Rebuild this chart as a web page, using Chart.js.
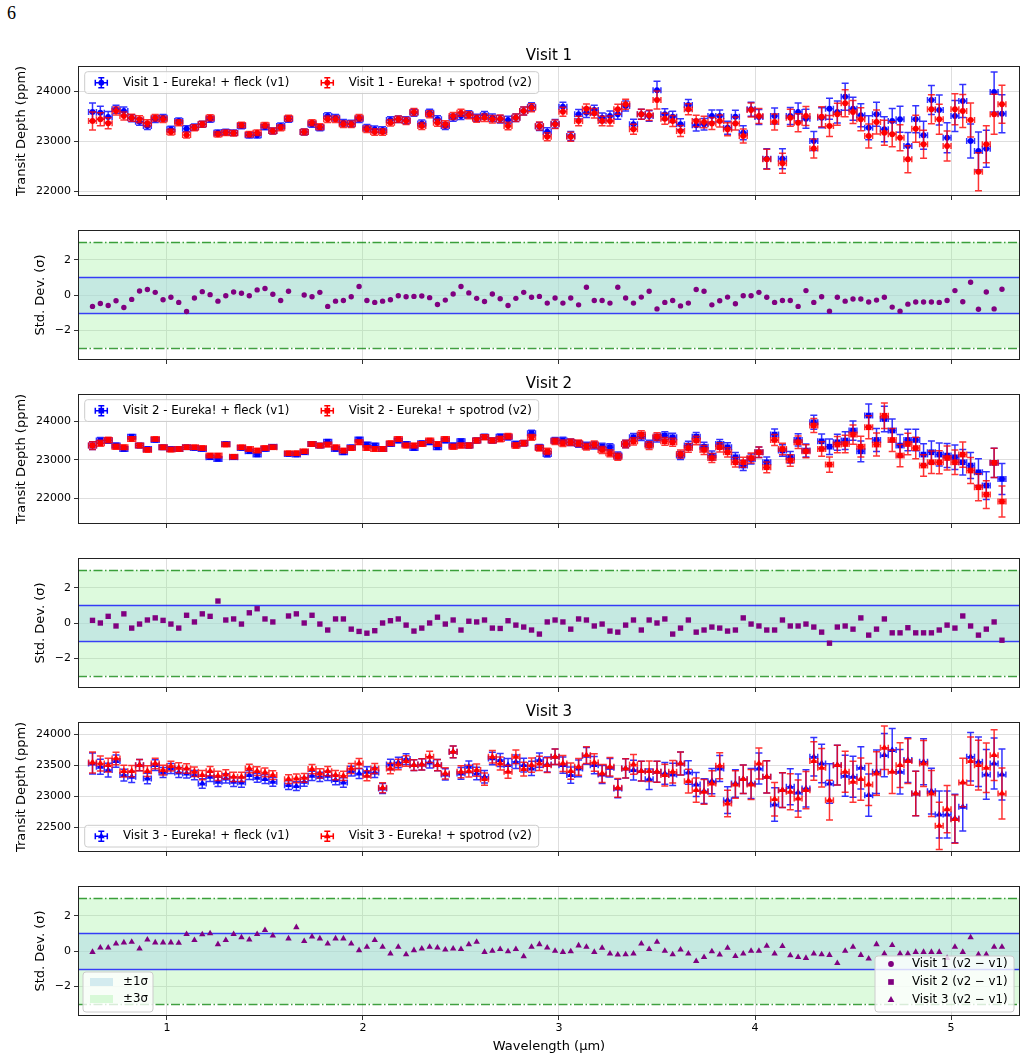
<!DOCTYPE html>
<html>
<head>
<meta charset="utf-8">
<script src="https://cdn.jsdelivr.net/npm/chart.js@4.4.1/dist/chart.umd.min.js"></script>
<style>
  body { margin: 0; background: #fff; }
  #page { position: relative; width: 1027px; height: 1061px; overflow: hidden; }
  #page canvas { position: absolute; left: 0; }
  #pageNum { position: absolute; left: 7px; top: 3px; font-family: "Liberation Serif", "DejaVu Serif", serif; font-size: 18px; }
</style>
</head>
<body>
<div id="page">
  <div id="pageNum">6</div>
  <canvas id="p1"></canvas>
  <canvas id="p2"></canvas>
  <canvas id="p3"></canvas>
  <canvas id="p4"></canvas>
  <canvas id="p5"></canvas>
  <canvas id="p6"></canvas>
</div>
<script>
// ---- data ----
const wavelength = [
  0.62,0.66,0.70,0.74,0.78,0.82,0.86,0.90,0.94,0.98,
  1.02,1.06,1.10,1.14,1.18,1.22,1.26,1.30,1.34,1.38,
  1.42,1.46,1.50,1.54,1.58,1.62,1.66,1.70,1.74,1.78,
  1.82,1.86,1.90,1.94,1.98,2.02,2.06,2.10,2.14,2.18,
  2.22,2.26,2.30,2.34,2.38,2.42,2.46,2.50,2.54,2.58,
  2.62,2.66,2.70,2.74,2.78,2.82,2.86,2.90,2.94,2.98,
  3.02,3.06,3.10,3.14,3.18,3.22,3.26,3.30,3.34,3.38,
  3.42,3.46,3.50,3.54,3.58,3.62,3.66,3.70,3.74,3.78,
  3.82,3.86,3.90,3.94,3.98,4.02,4.06,4.10,4.14,4.18,
  4.22,4.26,4.30,4.34,4.38,4.42,4.46,4.50,4.54,4.58,
  4.62,4.66,4.70,4.74,4.78,4.82,4.86,4.90,4.94,4.98,
  5.02,5.06,5.10,5.14,5.18,5.22,5.26];
const binHalfWidth = 0.02;

const visit1Fleck = [
  23580,23565,23480,23635,23600,23455,23385,23300,23435,23465,
  23235,23400,23245,23280,23335,23435,23165,23180,23165,23300,
  23115,23115,23280,23200,23300,23435,null,23180,23335,23265,
  23500,23465,23365,23350,23435,23265,23235,23220,23420,23435,
  23415,23565,23350,23565,23435,23300,23465,23500,23535,23465,
  23515,23465,23435,23420,23465,23600,23685,23290,23185,23345,
  23685,23100,23535,23565,23620,23465,23500,23535,23700,23335,
  23535,23500,24015,23535,23485,23335,23720,23315,23335,23500,
  23500,23265,23485,23165,23635,23480,22645,23500,22645,23500,
  23580,23445,23000,23465,23645,23580,23885,23645,23515,23265,
  23535,23235,23400,23435,22900,23435,23115,23820,23620,23065,
  23500,23800,23000,22800,22845,23980,23545];
const visit1Spotrod = [
  23400,23435,23355,23600,23500,23465,23435,23355,23465,23435,
  23180,23365,23120,23265,23335,23465,23135,23165,23155,23320,
  23135,23165,23315,23200,23265,23455,null,23180,23365,23285,
  23435,23435,23335,23335,23465,23235,23180,23180,23365,23435,
  23400,23580,23300,23535,23365,23335,23500,23565,23515,23445,
  23465,23435,23445,23300,23465,23600,23665,23300,23085,23335,
  23585,23085,23400,23645,23555,23400,23400,23635,23735,23235,
  23535,23515,23820,23445,23400,23200,23635,23400,23380,23350,
  23400,23235,23350,23100,23620,23500,22635,23380,22555,23465,
  23365,23500,22850,23485,23300,23535,23755,23580,23435,23100,
  23380,23165,23135,23065,22635,23245,22935,23635,23435,22900,
  23635,23600,23420,22385,22935,23535,23735];
const visit1Err = [
  180,130,110,80,80,70,70,70,65,65,
  60,60,60,60,60,60,55,55,55,55,
  55,55,55,60,60,60,60,60,60,60,
  65,65,65,65,65,65,65,65,65,65,
  70,70,70,70,70,70,70,70,70,70,
  75,75,75,75,75,80,80,80,80,85,
  90,90,95,95,95,95,100,100,100,100,
  100,105,180,110,110,110,110,115,115,120,
  120,130,130,140,140,150,200,160,200,170,
  180,190,190,200,210,220,270,230,230,240,
  240,250,250,260,270,270,280,290,300,300,
  310,330,340,380,370,400,380];

const visit2Fleck = [
  23370,23500,23500,23370,23280,23600,23370,23280,23515,23325,
  23280,23280,23325,23305,23280,23065,23020,23410,23065,23305,
  23220,23135,23280,23340,null,23150,23135,23195,23410,23370,
  23470,23280,23195,23325,23525,23395,23370,23280,23410,23500,
  23410,23305,23430,23455,23325,23500,23370,23480,23370,23500,
  23600,23500,23600,23585,23410,23430,23690,23325,23150,23500,
  23500,23455,23410,23370,23370,23340,23325,23110,23410,23585,
  23600,23410,23565,23630,23585,23110,23370,23600,23340,23110,
  23410,23325,23065,22850,23020,23195,22935,23655,23240,23065,
  23515,23240,23975,23480,23340,23455,23500,23760,23220,24150,
  23515,24060,23760,23370,23515,23515,23135,23195,23135,23110,
  23065,22935,22850,22675,22330,22920,22500];
const visit2Spotrod = [
  23370,23430,23515,23340,23325,23540,23370,23255,23540,23325,
  23265,23280,23325,23325,23305,23110,23110,23395,23080,23325,
  23280,23240,23305,23325,null,23170,23170,23220,23410,23370,
  23395,23325,23240,23305,23455,23305,23280,23280,23430,23540,
  23370,23370,23410,23500,23410,23540,23340,23370,23370,23500,
  23585,23500,23540,23610,23370,23430,23585,23305,23220,23480,
  23430,23455,23430,23340,23395,23255,23170,23080,23410,23480,
  23655,23370,23600,23480,23455,23150,23305,23500,23255,23045,
  23325,23195,22935,22935,23045,23195,22805,23515,23280,22980,
  23455,23220,23890,23280,22875,23395,23410,23655,23340,23845,
  23395,24145,23515,23110,23410,23305,22850,22935,22935,23045,
  22935,23135,22720,22285,22095,22920,21915];
const visit2Err = [
  100,80,70,65,60,60,60,55,55,55,
  55,50,50,50,50,50,50,50,50,50,
  50,50,50,50,50,50,50,50,55,55,
  55,55,55,55,60,60,60,60,60,60,
  60,60,60,60,60,60,65,65,65,65,
  65,65,70,70,70,70,75,75,80,80,
  85,85,85,85,90,90,90,90,95,95,
  100,100,100,100,105,105,110,110,115,115,
  120,120,125,130,130,135,140,145,150,150,
  160,170,180,190,200,210,230,250,270,300,
  300,330,300,290,280,280,280,290,300,310,
  320,330,340,350,360,380,400];

const visit3Fleck = [
  23527,23473,23420,23565,23339,23312,23500,23285,23500,23382,
  23446,23382,23366,23339,23204,23312,23231,23285,23231,23220,
  23339,23296,23274,23231,null,23177,23161,23231,23328,23312,
  23328,23258,23220,23403,23366,23393,23382,23124,23511,23543,
  23597,23500,23511,23543,23500,23350,23715,23366,23473,23366,
  23312,23608,23581,23500,23554,23500,23446,23581,23511,23634,
  23500,23339,23446,23650,23500,23350,23457,23124,23446,23420,
  23403,23274,23393,23366,23350,23527,23382,23188,23081,23242,
  23446,22935,23204,23274,23204,23446,23312,22866,23097,23151,
  23059,23124,23634,23527,23204,23500,23328,23312,23457,23016,
  23393,23661,23742,23393,23581,23043,23554,23081,22704,22704,
  22640,22828,23634,23554,23350,23527,23350];
const visit3Spotrod = [
  23543,23527,23500,23608,23403,23403,23500,23403,23527,23420,
  23484,23457,23446,23393,23339,23403,23328,23350,23312,23312,
  23446,23403,23382,23339,null,23274,23285,23296,23436,23366,
  23403,23339,23328,23446,23527,23328,23446,23134,23446,23511,
  23565,23500,23511,23634,23500,23366,23715,23393,23403,23420,
  23274,23634,23527,23393,23634,23436,23500,23527,23500,23634,
  23527,23403,23473,23661,23543,23366,23473,23134,23446,23511,
  23403,23403,23393,23339,23393,23527,23242,23097,23070,23204,
  23489,22882,23188,23274,23188,23527,23312,22952,23097,23070,
  22962,23097,23565,23457,22935,23500,23393,23231,23274,23188,
  23366,23780,23393,23500,23565,23043,23527,23043,22522,22790,
  22629,23220,23565,23500,23457,23661,23043];
const visit3Err = [
  170,120,110,100,95,90,90,85,85,80,
  80,80,75,75,75,75,75,75,75,75,
  70,70,70,70,70,70,70,70,75,75,
  75,75,75,80,80,80,80,80,85,85,
  85,85,90,90,90,90,95,95,95,100,
  100,100,105,105,110,110,115,115,120,125,
  130,130,135,135,140,145,150,150,155,160,
  160,165,170,175,180,185,190,195,200,205,
  210,215,220,230,240,250,260,270,280,290,
  300,300,310,310,320,320,330,330,340,340,
  350,350,350,360,360,360,370,370,380,380,
  390,390,390,400,400,410,410];

// (v2 - v1) in units of sigma
const visit1Sigma = [
  -0.65,-0.48,-0.60,-0.33,-0.71,-0.25,0.23,0.31,0.15,-0.27,
  -0.13,-0.42,-0.94,-0.17,0.19,0.02,-0.35,-0.04,0.17,0.10,
  -0.04,0.29,0.37,0.04,-0.31,0.21,null,0.00,-0.10,0.15,
  -0.65,-0.35,-0.31,-0.10,0.48,-0.31,-0.42,-0.35,-0.27,-0.04,
  -0.10,-0.08,-0.06,-0.15,-0.54,-0.29,0.06,0.48,0.12,-0.19,
  -0.37,0.06,-0.21,-0.60,-0.19,0.15,-0.13,-0.08,-0.46,-0.17,
  -0.46,-0.17,-0.56,0.44,-0.31,-0.31,-0.46,0.44,-0.17,-0.46,
  -0.12,0.21,-0.79,-0.42,-0.31,-0.62,-0.46,0.31,0.21,-0.56,
  -0.33,-0.12,-0.50,-0.04,-0.04,0.15,-0.13,-0.42,-0.31,-0.31,
  -0.65,0.25,-0.42,-0.10,-0.92,-0.13,-0.35,-0.23,-0.23,-0.40,
  -0.29,-0.13,-0.69,-0.92,-0.52,-0.40,-0.40,-0.40,-0.42,-0.31,
  0.25,-0.38,0.73,-0.81,0.17,-0.79,0.33];
const visit2Sigma = [
  0.15,0.00,0.38,-0.17,0.52,-0.29,-0.06,0.17,0.29,0.15,
  -0.06,-0.29,0.44,0.06,0.52,0.38,1.25,0.17,0.23,-0.06,
  0.58,0.81,0.23,0.06,null,0.40,0.52,0.00,0.44,-0.06,
  -0.40,0.23,0.23,-0.35,-0.48,-0.58,-0.44,0.00,0.13,0.23,
  -0.12,-0.46,-0.29,0.00,0.33,-0.06,0.17,-0.40,0.10,0.06,
  0.17,-0.29,-0.31,0.13,-0.12,-0.23,-0.40,-0.63,0.06,0.17,
  0.06,-0.35,0.23,0.17,-0.17,-0.06,-0.46,-0.52,-0.12,0.17,
  -0.40,0.17,0.00,0.23,-0.63,-0.29,0.17,-0.52,-0.40,-0.23,
  -0.29,-0.46,-0.40,0.29,-0.06,-0.17,-0.40,-0.40,0.17,-0.17,
  -0.17,-0.06,-0.23,-0.52,-1.15,-0.23,-0.17,-0.35,0.29,-0.69,
  -0.35,0.23,-0.56,-0.56,-0.27,-0.56,-0.56,-0.56,-0.40,-0.12,
  -0.29,0.40,-0.17,-0.69,-0.35,0.06,-0.98];
const visit3Sigma = [
  -0.06,0.19,0.19,0.42,0.48,0.52,0.13,0.65,0.48,0.48,
  0.48,0.46,0.96,0.62,0.94,1.00,0.38,0.62,0.96,0.77,
  0.65,0.96,1.19,0.87,null,0.71,1.35,0.56,0.81,0.71,
  0.42,0.71,0.71,0.42,0.04,0.23,0.62,0.23,-0.15,0.23,
  -0.19,0.04,0.13,0.23,0.19,0.08,0.13,0.10,0.37,0.52,
  -0.06,0.00,0.10,-0.02,0.10,-0.31,0.23,0.38,0.19,0.00,
  -0.06,-0.02,0.31,0.23,-0.06,0.17,-0.15,-0.21,-0.19,-0.15,
  0.42,0.10,0.52,0.00,-0.19,0.08,-0.15,-0.58,-0.35,-0.02,
  -0.21,0.17,-0.29,-0.15,0.00,0.00,0.29,-0.15,0.27,-0.25,
  -0.35,-0.40,-0.15,-0.19,-0.23,-0.69,0.00,0.23,-0.23,-0.44,
  0.38,-0.15,0.33,-0.15,-0.15,-0.06,-0.06,-0.06,-0.06,-0.40,
  0.23,-0.06,0.77,-0.19,-0.19,0.23,0.23];

const visitNames = ['Visit 1', 'Visit 2', 'Visit 3'];
const methodNames = ['Eureka! + fleck (v1)', 'Eureka! + spotrod (v2)'];
const sigmaLevels = [1, 3];
const sigmaLabels = ['\u00b11\u03c3', '\u00b13\u03c3'];
const wavelengthTicks = [1, 2, 3, 4, 5];
const depthTicks = [22000, 23000, 24000];
const depthTicksVisit3 = [22500, 23000, 23500, 24000];
const sigmaTicks = [-2, 0, 2];

const fleckDepth = [visit1Fleck, visit2Fleck, visit3Fleck];
const spotrodDepth = [visit1Spotrod, visit2Spotrod, visit3Spotrod];
const depthErr = [visit1Err, visit2Err, visit3Err];
const diffSigma = [visit1Sigma, visit2Sigma, visit3Sigma];

// ---- look ----
Chart.defaults.font.family = '"DejaVu Sans", sans-serif';
Chart.defaults.color = '#000';

const FONT = '"DejaVu Sans", sans-serif';
const BLUE = '#0000ff', RED = '#ff0000', PURPLE = '#800080';
const markerStyle = ['circle', 'rect', 'triangle'];
const markerRadius = { circle: 2.9, rect: 4.0, triangle: 3.9 };
const TOP_PAD = 30, PLOT_H = 130;

// bottom must be >= half a tick label + padding, or Chart.js shrinks the plot
const panels = [
  { id: 'p1', plotTop: 66,  bottom: 12, type: 'depth', visit: 0, yMin: 21900, yMax: 24500, yTicks: depthTicks, legend: 'top' },
  { id: 'p2', plotTop: 230, bottom: 12, type: 'sigma', visit: 0 },
  { id: 'p3', plotTop: 394, bottom: 12, type: 'depth', visit: 1, yMin: 21330, yMax: 24710, yTicks: depthTicks, legend: 'top' },
  { id: 'p4', plotTop: 558, bottom: 12, type: 'sigma', visit: 1 },
  { id: 'p5', plotTop: 722, bottom: 12, type: 'depth', visit: 2, yMin: 22100, yMax: 24195, yTicks: depthTicksVisit3, legend: 'bottom' },
  { id: 'p6', plotTop: 886, bottom: 45, type: 'sigma', visit: 2, xLabels: true, sideLegends: true }
];

function markerPath(ctx, style, r, x, y) {
  ctx.beginPath();
  if (style === 'circle') {
    ctx.arc(x, y, r, 0, Math.PI * 2);
  } else if (style === 'rect') {
    const s = r * Math.SQRT1_2;
    ctx.rect(x - s, y - s, 2 * s, 2 * s);
  } else {
    ctx.moveTo(x, y - r);
    ctx.lineTo(x + r * Math.sin(2 * Math.PI / 3), y - r * Math.cos(2 * Math.PI / 3));
    ctx.lineTo(x + r * Math.sin(4 * Math.PI / 3), y - r * Math.cos(4 * Math.PI / 3));
    ctx.closePath();
  }
}

function legendBox(ctx, x, y, w, h) {
  ctx.save();
  ctx.beginPath();
  ctx.roundRect(x, y, w, h, 3);
  ctx.fillStyle = 'rgba(255,255,255,0.8)';
  ctx.fill();
  ctx.strokeStyle = '#cccccc';
  ctx.lineWidth = 1;
  ctx.stroke();
  ctx.restore();
}

function errIcon(ctx, cx, cy, color, style) {
  ctx.save();
  ctx.strokeStyle = color;
  ctx.lineWidth = 1.5;
  ctx.beginPath();
  ctx.moveTo(cx - 6, cy); ctx.lineTo(cx + 6, cy);
  ctx.moveTo(cx - 6, cy - 3); ctx.lineTo(cx - 6, cy + 3);
  ctx.moveTo(cx + 6, cy - 3); ctx.lineTo(cx + 6, cy + 3);
  ctx.moveTo(cx, cy - 5); ctx.lineTo(cx, cy + 5);
  ctx.moveTo(cx - 3, cy - 5); ctx.lineTo(cx + 3, cy - 5);
  ctx.moveTo(cx - 3, cy + 5); ctx.lineTo(cx + 3, cy + 5);
  ctx.stroke();
  ctx.fillStyle = color;
  markerPath(ctx, style, markerRadius[style], cx, cy);
  ctx.fill();
  ctx.restore();
}

const panelDecor = {
  id: 'panelDecor',
  beforeDatasetsDraw(chart, args, opts) {
    const p = panels[opts.panel];
    if (p.type !== 'sigma') return;
    const { ctx, chartArea: ca, scales: { y } } = chart;
    ctx.save();
    const fills = ['rgba(173,216,230,0.5)', 'rgba(144,238,144,0.3)'];
    // wide band first, then narrow one on top
    for (let k = sigmaLevels.length - 1; k >= 0; k--) {
      const a = y.getPixelForValue(sigmaLevels[k]), b = y.getPixelForValue(-sigmaLevels[k]);
      ctx.fillStyle = fills[k];
      ctx.fillRect(ca.left, a, ca.width, b - a);
    }
    ctx.lineWidth = 1.3;
    sigmaLevels.forEach((lv, k) => {
      ctx.strokeStyle = k === 0 ? 'rgba(0,0,255,0.75)' : 'rgba(0,128,0,0.75)';
      ctx.setLineDash(k === 0 ? [] : [9, 2.5, 1.5, 2.5]);
      [lv, -lv].forEach(v => {
        const py = Math.round(y.getPixelForValue(v)) + 0.5;
        ctx.beginPath();
        ctx.moveTo(ca.left, py); ctx.lineTo(ca.right, py);
        ctx.stroke();
      });
    });
    ctx.restore();
  },
  beforeDatasetDraw(chart, args) {
    const ds = chart.data.datasets[args.index];
    if (!ds.yErr) return;
    const { ctx, chartArea: ca, scales: { x, y } } = chart;
    ctx.save();
    ctx.beginPath();
    ctx.rect(ca.left, ca.top, ca.width, ca.height);
    ctx.clip();
    ctx.strokeStyle = ds.barColor;
    ctx.lineWidth = 1.5;
    ctx.beginPath();
    ds.data.forEach((pt, i) => {
      if (pt.y === null) return;
      const e = ds.yErr[i];
      const px = x.getPixelForValue(pt.x), py = y.getPixelForValue(pt.y);
      const xa = x.getPixelForValue(pt.x - binHalfWidth), xb = x.getPixelForValue(pt.x + binHalfWidth);
      const ya = y.getPixelForValue(pt.y + e), yb = y.getPixelForValue(pt.y - e);
      ctx.moveTo(px, ya); ctx.lineTo(px, yb);
      ctx.moveTo(px - 3.5, ya); ctx.lineTo(px + 3.5, ya);
      ctx.moveTo(px - 3.5, yb); ctx.lineTo(px + 3.5, yb);
      ctx.moveTo(xa, py); ctx.lineTo(xb, py);
      ctx.moveTo(xa, py - 3); ctx.lineTo(xa, py + 3);
      ctx.moveTo(xb, py - 3); ctx.lineTo(xb, py + 3);
    });
    ctx.stroke();
    ctx.restore();
  },
  afterDraw(chart, args, opts) {
    const p = panels[opts.panel];
    const { ctx, chartArea: ca } = chart;
    ctx.save();
    ctx.strokeStyle = '#222';
    ctx.lineWidth = 1;
    ctx.strokeRect(ca.left + 0.5, ca.top + 0.5, ca.width - 1, ca.height - 1);

    ctx.textBaseline = 'middle';
    if (p.type === 'depth') {
      ctx.fillStyle = '#000';
      ctx.font = '15px ' + FONT;
      ctx.textAlign = 'center';
      ctx.fillText(visitNames[p.visit], (ca.left + ca.right) / 2, ca.top - 10);

      const top = p.legend === 'top' ? ca.top + 5.7 : ca.bottom - 5 - 21.7;
      legendBox(ctx, ca.left + 6.7, top, 454, 21.7);
      const cy = top + 11;
      const style = markerStyle[p.visit];
      ctx.font = '11.8px ' + FONT;
      ctx.textAlign = 'left';
      errIcon(ctx, ca.left + 23.3, cy, BLUE, style);
      ctx.fillStyle = '#000';
      ctx.fillText(visitNames[p.visit] + ' - ' + methodNames[0], ca.left + 45, cy);
      errIcon(ctx, ca.left + 249.3, cy, RED, style);
      ctx.fillStyle = '#000';
      ctx.fillText(visitNames[p.visit] + ' - ' + methodNames[1], ca.left + 270.7, cy);
    }
    if (p.sideLegends) {
      ctx.font = '11.8px ' + FONT;
      ctx.textAlign = 'left';
      // band legend, lower left
      const bx = ca.left + 5, by = ca.top + 86;
      legendBox(ctx, bx, by, 70, 40);
      const patch = ['rgba(173,216,230,0.5)', 'rgba(144,238,144,0.3)'];
      sigmaLabels.forEach((lab, k) => {
        const cy = by + 10 + k * 17;
        ctx.fillStyle = patch[k];
        ctx.fillRect(bx + 7, cy - 4, 23, 8);
        ctx.fillStyle = '#000';
        ctx.fillText(lab, bx + 40, cy);
      });
      // marker legend, lower right
      const rx = ca.right - 145, ry = ca.top + 70;
      legendBox(ctx, rx, ry, 139, 56);
      visitNames.forEach((name, k) => {
        const cy = ry + 8 + k * 18;
        ctx.fillStyle = PURPLE;
        markerPath(ctx, markerStyle[k], markerRadius[markerStyle[k]], rx + 16, cy);
        ctx.fill();
        ctx.fillStyle = '#000';
        ctx.fillText(name + ' (v2 \u2212 v1)', rx + 37, cy);
      });
    }
    ctx.restore();
  }
};

function buildDatasets(p) {
  const style = markerStyle[p.visit];
  const r = markerRadius[style];
  const pts = arr => wavelength.map((w, i) => ({ x: w, y: arr[i] }));
  if (p.type === 'sigma') {
    return [{
      label: visitNames[p.visit] + ' (v2 \u2212 v1)',
      data: pts(diffSigma[p.visit]),
      pointStyle: style, pointRadius: r - 0.2,
      backgroundColor: PURPLE, borderColor: PURPLE, borderWidth: 0
    }];
  }
  return [
    {
      label: visitNames[p.visit] + ' - ' + methodNames[0],
      data: pts(fleckDepth[p.visit]), yErr: depthErr[p.visit], barColor: 'rgba(0,0,255,0.8)',
      pointStyle: style, pointRadius: r,
      backgroundColor: BLUE, borderColor: BLUE, borderWidth: 0, order: 2
    },
    {
      label: visitNames[p.visit] + ' - ' + methodNames[1],
      data: pts(spotrodDepth[p.visit]), yErr: depthErr[p.visit], barColor: 'rgba(255,0,0,0.8)',
      pointStyle: style, pointRadius: r,
      backgroundColor: RED, borderColor: RED, borderWidth: 0, order: 1
    }
  ];
}

const fmt = v => (v < 0 ? '\u2212' + Math.abs(v) : String(v));

panels.forEach((p, idx) => {
  const canvas = document.getElementById(p.id);
  canvas.width = 1027;
  canvas.height = TOP_PAD + PLOT_H + p.bottom;
  canvas.style.top = (p.plotTop - TOP_PAD) + 'px';
  const isSigma = p.type === 'sigma';
  const yTicks = isSigma ? sigmaTicks : p.yTicks;

  new Chart(canvas, {
    type: 'scatter',
    data: { datasets: buildDatasets(p) },
    options: {
      responsive: false,
      animation: false,
      events: [],
      layout: { padding: { top: TOP_PAD, right: 7, left: 0, bottom: 0 } },
      plugins: {
        legend: { display: false },
        tooltip: { enabled: false },
        panelDecor: { panel: idx }
      },
      scales: {
        x: {
          type: 'linear', min: 0.546, max: 5.352,
          afterBuildTicks: s => { s.ticks = wavelengthTicks.map(v => ({ value: v })); },
          afterFit: s => { s.height = p.bottom; },
          border: { display: false },
          grid: { color: '#dedede', lineWidth: 1, tickLength: 4, tickColor: '#333' },
          ticks: { display: !!p.xLabels, padding: 2, font: { size: 11 }, color: '#000', callback: v => fmt(v) },
          title: { display: !!p.xLabels, text: 'Wavelength (\u03bcm)', font: { size: 13 }, color: '#000', padding: { top: 0, bottom: 7 } }
        },
        y: {
          type: 'linear',
          min: isSigma ? -3.7 : p.yMin, max: isSigma ? 3.7 : p.yMax,
          afterBuildTicks: s => { s.ticks = yTicks.map(v => ({ value: v })); },
          afterFit: s => { s.width = 78; },
          border: { display: false },
          grid: { color: '#dedede', lineWidth: 1, tickLength: 4, tickColor: '#333' },
          ticks: { padding: 3, font: { size: 11 }, color: '#000', callback: v => fmt(v) },
          title: {
            display: true,
            text: isSigma ? 'Std. Dev. (\u03c3)' : 'Transit Depth (ppm)',
            font: { size: 13 }, color: '#000',
            padding: { top: isSigma ? 33 : 14, bottom: 0 }
          }
        }
      }
    },
    plugins: [panelDecor]
  });
});
</script>
</body>
</html>
